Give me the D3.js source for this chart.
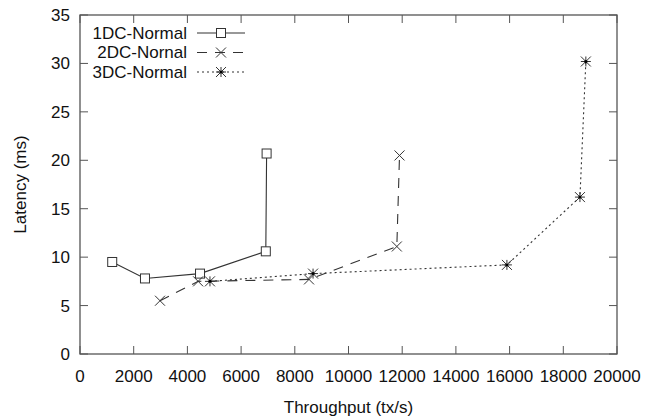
<!DOCTYPE html>
<html>
<head>
<meta charset="utf-8">
<script src="https://cdn.jsdelivr.net/npm/d3@7"></script>
<style>
  body { margin: 0; background: #fff; }
  text { font-family: "Liberation Sans", Arial, sans-serif; fill: #111; }
</style>
</head>
<body>
<svg id="chart" width="657" height="420"></svg>
<script>
"use strict"

const seriesNames = ["1DC-Normal", "2DC-Nornal", "3DC-Normal"]

const dc1 = [
    { x: 1200, y: 9.5 },
    { x: 2420, y: 7.8 },
    { x: 4470, y: 8.3 },
    { x: 6920, y: 10.6 },
    { x: 6950, y: 20.7 }
]
const dc2 = [
    { x: 2980, y: 5.5 },
    { x: 4400, y: 7.5 },
    { x: 8530, y: 7.7 },
    { x: 11800, y: 11.1 },
    { x: 11900, y: 20.5 }
]
const dc3 = [
    { x: 4840, y: 7.5 },
    { x: 8680, y: 8.3 },
    { x: 15900, y: 9.2 },
    { x: 18620, y: 16.2 },
    { x: 18840, y: 30.2 }
]

const xTicks = d3.range(0, 20001, 2000)
const yTicks = d3.range(0, 36, 5)

const svg = d3.select("#chart")
const plot = { left: 80, right: 617, top: 15, bottom: 354 }

const x = d3.scaleLinear().domain([0, 20000]).range([plot.left, plot.right])
const y = d3.scaleLinear().domain([0, 35]).range([plot.bottom, plot.top])

const axisColor = "#555"
const lineColor = "#333"
const fontSize = "17px"

// ticks on all four sides, pointing inward
const tickLen = 8
const g = svg.append("g")

xTicks.forEach(t => {
    g.append("line").attr("x1", x(t)).attr("x2", x(t)).attr("y1", plot.bottom).attr("y2", plot.bottom - tickLen)
        .attr("stroke", axisColor)
    g.append("line").attr("x1", x(t)).attr("x2", x(t)).attr("y1", plot.top).attr("y2", plot.top + tickLen)
        .attr("stroke", axisColor)
    g.append("text").attr("x", x(t)).attr("y", plot.bottom + 28).attr("text-anchor", "middle")
        .style("font-size", fontSize).text(t)
})

yTicks.forEach(t => {
    g.append("line").attr("x1", plot.left).attr("x2", plot.left + tickLen).attr("y1", y(t)).attr("y2", y(t))
        .attr("stroke", axisColor)
    g.append("line").attr("x1", plot.right).attr("x2", plot.right - tickLen).attr("y1", y(t)).attr("y2", y(t))
        .attr("stroke", axisColor)
    g.append("text").attr("x", plot.left - 10).attr("y", y(t)).attr("dy", "0.35em").attr("text-anchor", "end")
        .style("font-size", fontSize).text(t)
})

svg.append("rect")
    .attr("x", plot.left).attr("y", plot.top)
    .attr("width", plot.right - plot.left).attr("height", plot.bottom - plot.top)
    .attr("fill", "none").attr("stroke", axisColor).attr("stroke-width", 1.3)

svg.append("text").attr("x", (plot.left + plot.right) / 2).attr("y", 413).attr("text-anchor", "middle")
    .style("font-size", fontSize).text("Throughput (tx/s)")

svg.append("text").attr("transform", `translate(26,${(plot.top + plot.bottom) / 2}) rotate(-90)`)
    .attr("text-anchor", "middle").style("font-size", fontSize).text("Latency (ms)")

const line = d3.line().x(d => x(d.x)).y(d => y(d.y))

const styles = [
    { data: dc1, dash: null, marker: "square" },
    { data: dc2, dash: "10,8", marker: "cross" },
    { data: dc3, dash: "2,3", marker: "star" }
]

function drawMarker(sel, type, cx, cy) {
    const m = sel.append("g").attr("transform", `translate(${cx},${cy})`)
        .attr("stroke", lineColor).attr("stroke-width", 1).attr("fill", "none")
    if (type == "square") {
        const s = 4.5
        m.append("rect").attr("x", -s).attr("y", -s).attr("width", 2 * s).attr("height", 2 * s)
            .attr("fill", "#fff")
    }
    const s = 5
    if (type == "cross" || type == "star") {
        m.append("line").attr("x1", -s).attr("y1", -s).attr("x2", s).attr("y2", s)
        m.append("line").attr("x1", -s).attr("y1", s).attr("x2", s).attr("y2", -s)
    }
    if (type == "star") {
        m.append("line").attr("x1", -s).attr("y1", 0).attr("x2", s).attr("y2", 0)
        m.append("line").attr("x1", 0).attr("y1", -s).attr("x2", 0).attr("y2", s)
        m.append("circle").attr("r", 1.5).attr("fill", "#000").attr("stroke", "none")
    }
}

styles.forEach(st => {
    svg.append("path").datum(st.data)
        .attr("d", line)
        .attr("fill", "none")
        .attr("stroke", lineColor)
        .attr("stroke-width", 1.1)
        .attr("stroke-dasharray", st.dash)
    st.data.forEach(d => drawMarker(svg, st.marker, x(d.x), y(d.y)))
})

// legend
const legendY = [33, 52.5, 72]
styles.forEach((st, i) => {
    const ly = legendY[i]
    svg.append("text").attr("x", 187).attr("y", ly).attr("dy", "0.35em").attr("text-anchor", "end")
        .style("font-size", fontSize).text(seriesNames[i])
    svg.append("line").attr("x1", 197).attr("x2", 245).attr("y1", ly).attr("y2", ly)
        .attr("stroke", lineColor).attr("stroke-width", 1.1).attr("stroke-dasharray", st.dash)
    drawMarker(svg, st.marker, 221, ly)
})
</script>
</body>
</html>
